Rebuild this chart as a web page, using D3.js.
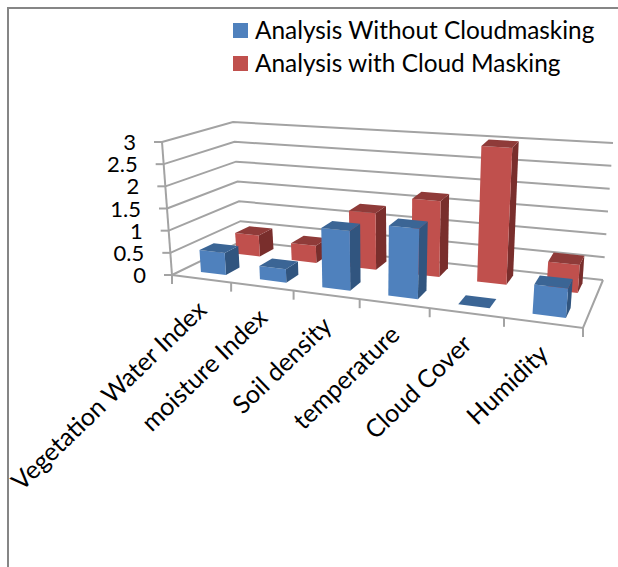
<!DOCTYPE html>
<html>
<head>
<meta charset="utf-8">
<script src="https://cdn.jsdelivr.net/npm/d3@7"></script>
<style>
  html, body { margin: 0; padding: 0; background: #fff; }
  svg { display: block; font-family: Lato, "Open Sans", sans-serif; }
</style>
</head>
<body>
<div id="chart"></div>
<script>
const categories = ['Vegetation Water Index', 'moisture Index', 'Soil density', 'temperature', 'Cloud Cover', 'Humidity']
const seriesNames = ['Analysis Without Cloudmasking', 'Analysis with Cloud Masking']
const withoutMasking = [0.5, 0.3, 1.3, 1.5, 0, 0.6]
const withMasking = [0.5, 0.4, 1.3, 1.7, 3, 0.6]
const yTicks = [0, 0.5, 1, 1.5, 2, 2.5, 3]

const width = 618
const height = 567
const colors = [
  { front: '#4f81bd', top: '#3b6595', side: '#31557f' },
  { front: '#c0504d', top: '#8f3b39', side: '#792e2c' }
]
const gridColor = '#a3a3a3'

// corners of the 3d box as they land on the page, f = front, b = back, 0 = floor, 1 = top
const corners = {
  f0l: [172, 275], f0r: [583, 328], b0l: [242, 241], b0r: [603, 280],
  f1l: [162, 142], f1r: [595, 178], b1l: [233, 122], b1r: [613, 143]
}

const mix = (a, b, t) => [a[0] + (b[0] - a[0]) * t, a[1] + (b[1] - a[1]) * t]
// widths grow toward the viewer on the right
const skew = (u) => u / (u + 1.19 * (1 - u))

function project(u, v, w) {
  const su = skew(u)
  const floor = mix(mix(corners.f0l, corners.f0r, su), mix(corners.b0l, corners.b0r, su), w)
  const top = mix(mix(corners.f1l, corners.f1r, su), mix(corners.b1l, corners.b1r, su), w)
  return mix(floor, top, v)
}

const xScale = d3.scaleBand().domain(categories).range([0.005, 1.005]).paddingInner(0.57).paddingOuter(0.285)
const zScale = d3.scaleBand().domain(seriesNames).range([0, 1.05]).paddingInner(0.6).paddingOuter(0.3)
const yScale = d3.scaleLinear().domain([0, 3]).range([0, 1])
const catStep = 1 / categories.length
const line = d3.line()

const svg = d3.select('#chart').append('svg')
  .attr('width', width)
  .attr('height', height)
  .attr('viewBox', [0, 0, width, height])

// picture frame, only top and left show
svg.append('path')
  .attr('d', line([[8, height], [8, 8], [width, 8]]))
  .attr('fill', 'none')
  .attr('stroke', '#868686')
  .attr('stroke-width', 2)

const grid = svg.append('g').attr('fill', 'none').attr('stroke', gridColor).attr('stroke-width', 2)

grid.selectAll('.wall')
  .data(yTicks)
  .join('path')
  .attr('class', 'wall')
  .attr('d', (d) => line([
    project(0, yScale(d), 0),
    project(0, yScale(d), 1),
    project(1, yScale(d), 1)
  ]))

// value axis with its outward ticks
grid.append('path').attr('d', line([project(0, 0, 0), project(0, 1, 0)]))
grid.selectAll('.ytick')
  .data(yTicks)
  .join('path')
  .attr('class', 'ytick')
  .attr('d', (d) => {
    const p = project(0, yScale(d), 0)
    return line([p, [p[0] - 8, p[1]]])
  })

// floor edges and category ticks
grid.append('path').attr('d', line([project(0, 0, 0), project(1, 0, 0), project(1, 0, 1)]))
grid.selectAll('.xtick')
  .data(d3.range(categories.length + 1))
  .join('path')
  .attr('class', 'xtick')
  .attr('d', (i) => {
    const p = project(i * catStep, 0, 0)
    return line([p, [p[0], p[1] + 9]])
  })

function drawBar(g, cat, name, value, c) {
  const u0 = xScale(cat)
  const u1 = u0 + xScale.bandwidth()
  const w0 = zScale(name)
  const w1 = w0 + zScale.bandwidth()
  const v = yScale(value)
  const faces = [
    { fill: c.side, pts: [[u1, 0, w0], [u1, 0, w1], [u1, v, w1], [u1, v, w0]] },
    { fill: c.front, pts: [[u0, 0, w0], [u1, 0, w0], [u1, v, w0], [u0, v, w0]] },
    { fill: c.top, pts: [[u0, v, w0], [u1, v, w0], [u1, v, w1], [u0, v, w1]] }
  ]
  g.selectAll(null)
    .data(faces)
    .join('path')
    .attr('d', (f) => line(f.pts.map((p) => project(p[0], p[1], p[2]))) + 'Z')
    .attr('fill', (f) => f.fill)
}

// back row first, left to right, so nearer bars cover farther ones
const rows = [withMasking, withoutMasking]
rows.forEach((values, r) => {
  const s = 1 - r
  const g = svg.append('g').attr('class', 'series-' + s)
  categories.forEach((cat, i) => drawBar(g, cat, seriesNames[s], values[i], colors[s]))
})

svg.append('g')
  .attr('font-size', 22)
  .attr('fill', '#000')
  .attr('text-anchor', 'end')
  .selectAll('text')
  .data(yTicks)
  .join('text')
  .attr('x', (d) => project(0, yScale(d), 0)[0] - 26)
  .attr('y', (d) => project(0, yScale(d), 0)[1] + 8)
  .text((d) => d)

svg.append('g')
  .attr('font-size', 25)
  .attr('fill', '#000')
  .attr('text-anchor', 'end')
  .selectAll('text')
  .data(categories)
  .join('text')
  .attr('transform', (d, i) => {
    const p = project((i + 0.5) * catStep, 0, 0)
    return `translate(${p[0] + 7},${p[1] + 33}) rotate(-44)`
  })
  .text((d) => d)

const legend = svg.append('g')
  .selectAll('g')
  .data(seriesNames)
  .join('g')
  .attr('transform', (d, i) => `translate(233,${23 + i * 33})`)

legend.append('rect')
  .attr('width', 15)
  .attr('height', 15)
  .attr('fill', (d, i) => colors[i].front)

legend.append('text')
  .attr('x', 22)
  .attr('y', 16)
  .attr('font-size', 24.4)
  .attr('fill', '#000')
  .text((d) => d)
</script>
</body>
</html>
